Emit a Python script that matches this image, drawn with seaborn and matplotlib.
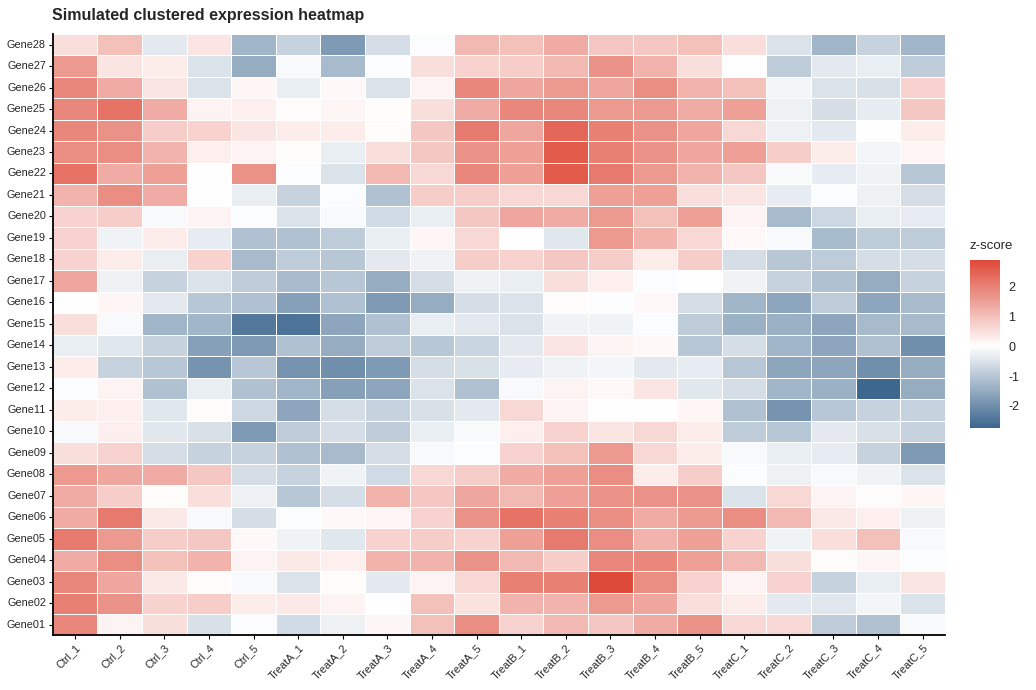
import numpy as np
import matplotlib
matplotlib.use("Agg")
import matplotlib.pyplot as plt
import pandas as pd
import seaborn as sns
from matplotlib.colors import LinearSegmentedColormap

samples = ["Ctrl_1", "Ctrl_2", "Ctrl_3", "Ctrl_4", "Ctrl_5",
           "TreatA_1", "TreatA_2", "TreatA_3", "TreatA_4", "TreatA_5",
           "TreatB_1", "TreatB_2", "TreatB_3", "TreatB_4", "TreatB_5",
           "TreatC_1", "TreatC_2", "TreatC_3", "TreatC_4", "TreatC_5"]

# rows listed top to bottom as drawn (Gene28 ... Gene01)
genes = [f"Gene{i:02d}" for i in range(28, 0, -1)]

zscores = [
    [0.5, 1.0, -0.4, 0.4, -1.3, -0.8, -1.8, -0.6, -0.05, 1.1, 1.0, 1.3, 0.9, 0.9, 1.0, 0.5, -0.5, -1.3, -0.8, -1.3],
    [1.6, 0.4, 0.3, -0.5, -1.5, -0.1, -1.2, -0.05, 0.5, 0.7, 0.8, 1.1, 1.7, 1.2, 0.5, 0.0, -0.9, -0.4, -0.3, -0.9],
    [1.9, 1.3, 0.4, -0.5, 0.15, -0.3, 0.1, -0.5, 0.2, 1.9, 1.4, 1.6, 1.4, 1.8, 1.2, 1.0, -0.15, -0.5, -0.55, 0.7],
    [1.9, 2.2, 1.3, 0.2, 0.25, 0.05, 0.15, 0.05, 0.5, 1.3, 1.9, 1.9, 1.6, 1.6, 1.3, 1.5, -0.25, -0.6, -0.35, 0.9],
    [1.9, 1.7, 0.8, 0.7, 0.4, 0.3, 0.3, 0.05, 0.9, 2.1, 1.4, 2.4, 2.0, 1.7, 1.4, 0.6, -0.25, -0.4, 0.0, 0.3],
    [1.8, 1.8, 1.2, 0.25, 0.2, 0.05, -0.3, 0.5, 0.9, 1.7, 1.5, 2.6, 2.0, 1.7, 1.4, 1.5, 0.8, 0.3, -0.15, 0.15],
    [2.2, 1.3, 1.5, 0.0, 1.7, -0.05, -0.5, 1.1, 0.6, 1.9, 1.5, 2.6, 2.1, 1.6, 1.2, 0.9, -0.1, -0.35, -0.2, -1.0],
    [1.2, 1.8, 1.3, 0.0, -0.3, -0.8, -0.05, -1.1, 0.8, 0.8, 0.6, 0.6, 1.5, 1.5, 0.5, 0.4, -0.35, -0.05, -0.25, -0.6],
    [0.7, 0.8, -0.1, 0.2, -0.05, -0.5, -0.1, -0.65, -0.3, 0.9, 1.4, 1.3, 1.6, 1.0, 1.5, 0.2, -1.2, -0.7, -0.3, -0.35],
    [0.7, -0.2, 0.3, -0.35, -1.1, -1.1, -0.9, -0.3, 0.15, 0.6, 0.0, -0.45, 1.6, 1.2, 0.6, 0.1, -0.1, -1.2, -0.9, -0.9],
    [0.7, 0.3, -0.3, 0.7, -1.2, -0.9, -1.0, -0.4, -0.2, 0.8, 0.7, 0.9, 0.8, 0.3, 0.8, -0.6, -1.0, -0.9, -0.6, -0.6],
    [1.4, -0.25, -0.8, -0.5, -0.9, -1.2, -1.0, -1.5, -0.6, -0.25, -0.3, 0.5, 0.25, -0.05, 0.0, -0.2, -0.8, -1.1, -1.5, -0.8],
    [0.0, 0.15, -0.4, -1.0, -1.1, -1.7, -1.1, -1.8, -1.5, -0.6, -0.5, 0.05, -0.05, 0.1, -0.6, -1.3, -1.6, -0.9, -1.6, -1.2],
    [0.5, -0.1, -1.3, -1.3, -2.4, -2.5, -1.6, -1.1, -0.3, -0.4, -0.5, -0.2, -0.2, -0.05, -0.9, -1.4, -1.4, -1.6, -1.2, -1.2],
    [-0.3, -0.45, -0.8, -1.7, -1.8, -1.1, -1.5, -0.9, -1.0, -0.75, -0.4, 0.4, 0.2, 0.1, -1.0, -0.6, -1.3, -1.6, -1.1, -2.0],
    [0.3, -0.8, -1.0, -1.9, -1.0, -1.9, -2.0, -1.8, -0.6, -0.55, -0.35, -0.2, -0.15, -0.4, -0.35, -1.0, -1.6, -1.6, -2.0, -1.5],
    [-0.05, 0.2, -1.1, -0.3, -1.1, -1.3, -1.7, -1.6, -0.5, -1.1, -0.1, 0.2, 0.1, 0.4, -0.45, -0.6, -1.3, -1.4, -2.73, -1.5],
    [0.3, 0.25, -0.45, 0.05, -0.7, -1.6, -0.6, -0.8, -0.55, -0.4, 0.6, 0.2, 0.0, 0.0, 0.15, -1.1, -1.9, -1.0, -0.8, -0.8],
    [-0.1, 0.25, -0.45, -0.55, -1.8, -0.9, -0.6, -0.9, -0.3, -0.1, 0.25, 0.7, 0.4, 0.6, 0.3, -0.9, -1.0, -0.4, -0.55, -0.8],
    [0.5, 0.7, -0.6, -0.8, -0.8, -1.1, -1.2, -0.6, -0.1, -0.05, 0.7, 1.0, 1.6, 0.6, 0.3, -0.1, -0.3, -0.35, -0.8, -1.8],
    [1.6, 1.4, 1.3, 0.9, -0.6, -0.8, -0.2, -0.65, 0.6, 0.8, 1.3, 1.5, 1.8, 0.3, 0.8, -0.05, -0.25, -0.1, -0.2, -0.5],
    [1.3, 0.8, 0.05, 0.5, -0.25, -1.0, -0.6, 1.2, 0.9, 1.4, 1.1, 1.5, 1.7, 1.7, 1.7, -0.5, 0.6, 0.2, 0.05, 0.15],
    [1.3, 2.1, 0.35, -0.1, -0.6, -0.05, 0.1, 0.15, 0.7, 1.7, 2.2, 2.0, 1.8, 1.3, 1.6, 1.8, 1.1, 0.35, 0.25, -0.25],
    [2.1, 1.6, 0.8, 0.9, 0.1, -0.2, -0.45, 0.7, 0.8, 0.7, 1.5, 2.1, 1.8, 1.2, 1.5, 0.7, -0.2, 0.5, 1.0, -0.1],
    [1.3, 1.8, 1.0, 1.2, 0.2, 0.35, 0.25, 1.2, 1.2, 1.7, 1.1, 0.8, 1.9, 1.9, 1.5, 1.1, 0.5, 0.05, 0.15, -0.05],
    [1.9, 1.4, 0.35, 0.05, -0.1, -0.5, 0.05, -0.4, 0.2, 0.6, 2.0, 2.0, 2.87, 1.8, 0.7, 0.2, 0.7, -0.8, -0.3, 0.4],
    [2.0, 1.7, 0.7, 0.8, 0.3, 0.35, 0.2, 0.0, 1.0, 0.45, 1.2, 1.2, 1.6, 1.4, 0.5, 0.3, -0.4, -0.45, -0.15, -0.5],
    [1.9, 0.2, 0.5, -0.55, -0.05, -0.65, -0.25, 0.15, 1.0, 1.8, 0.7, 1.1, 0.9, 1.3, 1.7, 0.6, 0.6, -0.9, -1.1, -0.1],
]

df = pd.DataFrame(zscores, index=genes, columns=samples)

sns.set_style("white")
plt.rcParams["font.family"] = ["Liberation Sans", "DejaVu Sans"]
plt.rcParams["axes.unicode_minus"] = False

cmap = LinearSegmentedColormap.from_list("bwr_gg", ["#335F89", "#FFFFFF", "#DE4A39"])

fig = plt.figure(figsize=(10.36, 6.9), dpi=100)
ax = fig.add_axes([0.051, 0.079, 0.861, 0.872])
cax = fig.add_axes([0.936, 0.380, 0.029, 0.243])

sns.heatmap(df, ax=ax, cbar_ax=cax, cmap=cmap, center=0,
            vmin=df.values.min(), vmax=df.values.max(),
            linewidths=0.5, linecolor="white")

ax.set_xlabel("")
ax.set_ylabel("")
ax.set_xticklabels(samples, rotation=45, ha="right", rotation_mode="anchor", fontsize=7.8)
ax.set_yticklabels(genes, rotation=0, fontsize=7.8)
ax.tick_params(axis="both", length=3, width=0.8, color="black", pad=2, left=True, bottom=True)
for side in ["left", "bottom"]:
    ax.spines[side].set_visible(True)
    ax.spines[side].set_linewidth(1.3)
    ax.spines[side].set_color("black")

fig.text(0.050, 0.978, "Simulated clustered expression heatmap",
         fontsize=11.5, fontweight="bold", ha="left", va="center")

cax.set_title("z-score", fontsize=9.5, loc="left", pad=8)
cax.set_yticks([-2, -1, 0, 1, 2])
cax.set_yticklabels(["-2", "-1", "0", "1", "2"])
cax.tick_params(length=5, width=0.8, color="white", direction="in", labelsize=9, pad=6,
                left=True, right=True)
for s in cax.spines.values():
    s.set_visible(False)

fig.savefig("out.png", dpi=100)
